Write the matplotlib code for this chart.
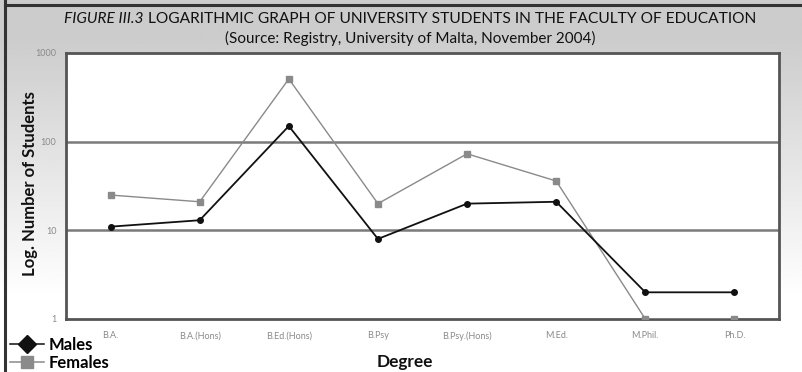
import numpy as np
import matplotlib
matplotlib.use("Agg")
import matplotlib.pyplot as plt
from matplotlib.lines import Line2D

plt.rcParams['font.family'] = ['Lato', 'DejaVu Sans']

degrees = ['B.A.', 'B.A.(Hons)', 'B.Ed.(Hons)', 'B.Psy', 'B.Psy.(Hons)', 'M.Ed.', 'M.Phil.', 'Ph.D.']
males = [11, 13, 150, 8, 20, 21, 2, 2]
females = [25, 21, 510, 20, 73, 36, 1, 1]
y_ticks = [1, 10, 100, 1000]

W, H = 803, 372
fig = plt.figure(figsize=(W / 100, H / 100), dpi=100)

# grey panel fading to white towards the bottom
bg = fig.add_axes([0, 0, 1, 1], zorder=-10)
grad = np.linspace(0, 1, 256)
shade = 0.80 + 0.20 * np.clip((grad - 0.1) / 0.7, 0, 1)
img = np.repeat(shade[:, None], 2, axis=1)
bg.imshow(img, cmap='gray', vmin=0, vmax=1, aspect='auto', extent=[0, 1, 1, 0])
bg.plot([5 / W, 5 / W], [0, 1], color='#333333', lw=2.2, transform=bg.transAxes)
bg.plot([5 / W, 1], [1 - 5 / H, 1 - 5 / H], color='#333333', lw=2.2, transform=bg.transAxes)
bg.set_xlim(0, 1)
bg.set_ylim(1, 0)
bg.axis('off')

left, right, top, bottom = 66, 779, 53, 319
ax = fig.add_axes([left / W, 1 - bottom / H, (right - left) / W, (bottom - top) / H])
ax.set_facecolor('white')

x = np.arange(len(degrees))
ax.plot(x, females, color='#8a8a8a', lw=1.0, marker='s', ms=4.5,
        mfc='#8a8a8a', mec='#8a8a8a', zorder=3)
ax.plot(x, males, color='#111111', lw=1.3, marker='o', ms=4,
        mfc='#111111', mec='#111111', zorder=4)

ax.set_yscale('log')
ax.set_ylim(1, 1000)
ax.set_xlim(-0.5, len(degrees) - 0.5)
ax.set_yticks(y_ticks)
ax.set_yticklabels([str(v) for v in y_ticks])
ax.minorticks_off()
ax.set_xticks(x)
ax.set_xticklabels(degrees)
ax.tick_params(length=0, labelsize=6.5, labelcolor='#8a8a8a')
ax.tick_params(axis='x', pad=9)
ax.tick_params(axis='y', pad=7)

for v in (10, 100):
    ax.axhline(v, color='#7a7a7a', lw=1.8, zorder=1)
for s in ax.spines.values():
    s.set_color('#555555')
    s.set_linewidth(2)

# title, italic figure number followed by regular text
fs = 11.2
t1 = fig.text(0, 0, 'FIGURE III.3', fontsize=fs, style='italic', color='#111111')
t2 = fig.text(0, 0, ' LOGARITHMIC GRAPH OF UNIVERSITY STUDENTS IN THE FACULTY OF EDUCATION',
              fontsize=fs, color='#111111')
fig.canvas.draw()
r = fig.canvas.get_renderer()
w1 = t1.get_window_extent(r).width
w2 = t2.get_window_extent(r).width
x0 = (410 - (w1 + w2) / 2)
ty = 1 - 19 / H
t1.set_position((x0 / W, ty))
t1.set_va('center')
t2.set_position(((x0 + w1) / W, ty))
t2.set_va('center')
fig.text(410 / W, 1 - 38 / H, '(Source: Registry, University of Malta, November 2004)',
         fontsize=11, ha='center', va='center', color='#111111')

fig.text(30 / W, 1 - 184 / H, 'Log. Number of Students', rotation=90, fontsize=12,
         fontweight='bold', ha='center', va='center', color='#111111')
fig.text(405 / W, 1 - 362 / H, 'Degree', fontsize=12.4, fontweight='bold',
         ha='center', va='center', color='#111111')

# legend drawn in figure coordinates at the lower left
handles = [
    Line2D([], [], color='#111111', lw=1.1, marker='D', ms=9, mfc='#111111', mec='#111111'),
    Line2D([], [], color='#8a8a8a', lw=1.1, marker='s', ms=9, mfc='#8a8a8a', mec='#8a8a8a'),
]
leg = fig.legend(handles, ['Males', 'Females'], loc='lower left',
                 bbox_to_anchor=(2 / W, -7 / H), frameon=False, handlelength=2.0,
                 handletextpad=0.3, labelspacing=0.1, borderaxespad=0.1,
                 prop={'weight': 'bold', 'size': 12})

fig.savefig('out.png', dpi=100)
